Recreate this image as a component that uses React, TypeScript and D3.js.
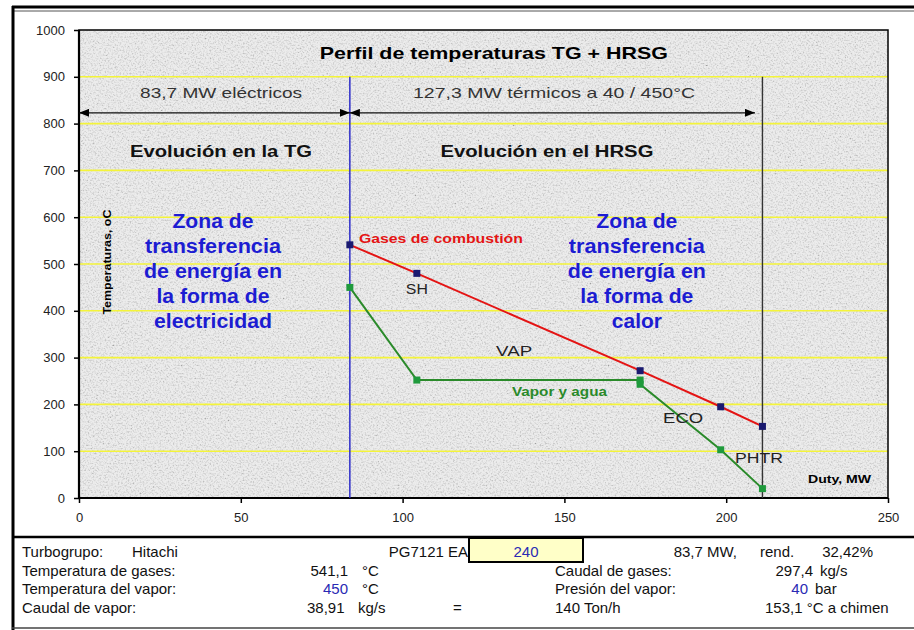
import { useEffect, useRef } from 'react'
import * as d3 from 'd3'

// Gases de combustión (duty MW, temperature °C)
const gasDuty = [83.7, 104.4, 173.4, 198.3, 211.2]
const gasTemp = [541, 480, 272, 195, 153]

// Vapor y agua
const steamDuty = [83.7, 104.4, 173.4, 173.4, 198.3, 211.2]
const steamTemp = [450, 252, 252, 243, 103, 20]

const xTicks = [0, 50, 100, 150, 200, 250]
const yTicks = [0, 100, 200, 300, 400, 500, 600, 700, 800, 900, 1000]
const gridTemps = [100, 200, 300, 400, 500, 600, 700, 800, 900]

const TG_DUTY = 83.7
const STACK_DUTY = 211.2
const ARROW_END = 208.9
const ARROW_TEMP = 823

const zoneLeft = ['Zona de', 'transferencia', 'de energía en', 'la forma de', 'electricidad']
const zoneRight = ['Zona de', 'transferencia', 'de energía en', 'la forma de', 'calor']
const zoneWidths = [81, 136, 138, 113, 118]

const FONT = '"Liberation Sans", Arial, sans-serif'

const W = 914
const H = 630
const margin = { left: 79, right: 888, top: 30, bottom: 498 }

export default function App() {
  const xAxisRef = useRef<SVGGElement>(null)
  const yAxisRef = useRef<SVGGElement>(null)

  const x = d3.scaleLinear().domain([0, 250]).range([margin.left, margin.right])
  const y = d3.scaleLinear().domain([0, 1000]).range([margin.bottom, margin.top])

  useEffect(() => {
    const xa = d3.select(xAxisRef.current!)
    xa.call(d3.axisBottom(x).tickValues(xTicks).tickFormat(d3.format('d')).tickSize(5).tickPadding(10))
    const ya = d3.select(yAxisRef.current!)
    ya.call(d3.axisLeft(y).tickValues(yTicks).tickFormat(d3.format('d')).tickSize(5).tickPadding(9))
    for (const a of [xa, ya]) {
      a.selectAll('.domain').remove()
      a.selectAll('line').attr('stroke', '#000').attr('stroke-width', 1.5)
      a.selectAll('text')
        .attr('fill', '#222')
        .style('font-family', FONT)
        .style('font-size', '13px')
    }
  }, [])

  const gasPts = gasDuty.map((d, i) => [x(d), y(gasTemp[i])] as [number, number])
  const steamPts = steamDuty.map((d, i) => [x(d), y(steamTemp[i])] as [number, number])
  const path = d3.line()

  const txt = (
    label: string,
    dx: number,
    dy: number,
    opts: { size: number; len?: number; bold?: boolean; fill?: string; anchor?: string },
  ) => (
    <text
      key={label + dx + dy}
      x={x(dx)}
      y={y(dy)}
      textAnchor={opts.anchor ?? 'start'}
      fontSize={opts.size}
      fontWeight={opts.bold ? 'bold' : 'normal'}
      fill={opts.fill ?? '#222'}
      textLength={opts.len}
      lengthAdjust="spacingAndGlyphs"
    >
      {label}
    </text>
  )

  const rowY = [557, 575.5, 594, 612.5]

  return (
    <div style={{ position: 'fixed', left: 0, top: 0 }}>
      <svg width={W} height={H} style={{ display: 'block', fontFamily: FONT }}>
        <defs>
          <filter id="grain" x="0" y="0" width="100%" height="100%">
            <feTurbulence type="fractalNoise" baseFrequency="0.6" numOctaves="2" seed="7" />
            <feColorMatrix
              type="matrix"
              values="2.2 0 0 0 -0.25  2.2 0 0 0 -0.25  2.2 0 0 0 -0.25  0 0 0 0 1"
            />
          </filter>
          <marker id="arr" viewBox="0 0 10 8" refX="10" refY="4" markerWidth="10" markerHeight="8"
            markerUnits="userSpaceOnUse" orient="auto-start-reverse">
            <path d="M0,0 L10,4 L0,8 Z" fill="#000" />
          </marker>
        </defs>

        <rect x={0} y={0} width={W} height={H} fill="#fff" />

        {/* plot background */}
        <rect x={margin.left} y={margin.top} width={margin.right - margin.left}
          height={margin.bottom - margin.top} fill="#e4e4e4" />
        <rect x={margin.left} y={margin.top} width={margin.right - margin.left}
          height={margin.bottom - margin.top} filter="url(#grain)" opacity={0.3} />

        {/* gridlines */}
        {gridTemps.map((t) => (
          <line key={t} x1={margin.left} x2={margin.right} y1={y(t)} y2={y(t)}
            stroke="#f4f43a" strokeWidth={1.6} />
        ))}

        {/* plot frame */}
        <rect x={margin.left} y={margin.top} width={margin.right - margin.left}
          height={margin.bottom - margin.top} fill="none" stroke="#000" strokeWidth={1.5} />
        <line x1={margin.left} x2={margin.left} y1={margin.top} y2={margin.bottom} stroke="#000" strokeWidth={2.2} />
        <line x1={margin.left} x2={margin.right} y1={margin.bottom} y2={margin.bottom} stroke="#000" strokeWidth={2.2} />

        <g ref={xAxisRef} transform={`translate(0,${margin.bottom})`} />
        <g ref={yAxisRef} transform={`translate(${margin.left},0)`} />

        {/* boundary lines */}
        <line x1={x(TG_DUTY)} x2={x(TG_DUTY)} y1={y(900)} y2={y(0)} stroke="#2020c8" strokeWidth={1.4} />
        <line x1={x(STACK_DUTY)} x2={x(STACK_DUTY)} y1={y(900)} y2={y(0)} stroke="#333" strokeWidth={1.4} />

        {/* arrows */}
        <line x1={x(0)} x2={x(TG_DUTY)} y1={y(ARROW_TEMP)} y2={y(ARROW_TEMP)} stroke="#111" strokeWidth={1.3}
          markerStart="url(#arr)" markerEnd="url(#arr)" />
        <line x1={x(TG_DUTY)} x2={x(ARROW_END)} y1={y(ARROW_TEMP)} y2={y(ARROW_TEMP)} stroke="#111" strokeWidth={1.3}
          markerStart="url(#arr)" markerEnd="url(#arr)" />

        {/* series */}
        <path d={path(steamPts) ?? ''} fill="none" stroke="#2a8a2a" strokeWidth={2} />
        <path d={path(gasPts) ?? ''} fill="none" stroke="#e41414" strokeWidth={2} />
        {steamPts.map(([px, py], i) => (
          <rect key={'s' + i} x={px - 3.5} y={py - 3.5} width={7} height={7} fill="#1f9a3c" />
        ))}
        {gasPts.map(([px, py], i) => (
          <rect key={'g' + i} x={px - 3.5} y={py - 3.5} width={7} height={7} fill="#1a1a70" />
        ))}

        {/* annotations */}
        {txt('Perfil de temperaturas TG + HRSG', 128.2, 938, { size: 17, len: 348, bold: true, anchor: 'middle', fill: '#000' })}
        {txt('83,7 MW eléctricos', 43.9, 855, { size: 15, len: 162, anchor: 'middle', fill: '#333' })}
        {txt('127,3 MW térmicos a 40 / 450°C', 146.8, 855, { size: 15, len: 282, anchor: 'middle', fill: '#333' })}
        {txt('Evolución en la TG', 43.9, 729, { size: 16, len: 182, bold: true, anchor: 'middle', fill: '#111' })}
        {txt('Evolución en el HRSG', 144.6, 729, { size: 16, len: 213, bold: true, anchor: 'middle', fill: '#111' })}
        {zoneLeft.map((s, i) =>
          txt(s, 41.4, 577 - i * 53.5, { size: 19.5, len: zoneWidths[i], bold: true, anchor: 'middle', fill: '#1c1cd2' }),
        )}
        {zoneRight.map((s, i) =>
          txt(s, 172.4, 577 - i * 53.5, { size: 19.5, len: i === 4 ? 50 : zoneWidths[i], bold: true, anchor: 'middle', fill: '#1c1cd2' }),
        )}
        {txt('Gases de combustión', 86.5, 545, { size: 12, len: 164, bold: true, fill: '#e41414' })}
        {txt('SH', 104.4, 436, { size: 15, len: 22, anchor: 'middle' })}
        {txt('VAP', 128.9, 303, { size: 15, len: 36 })}
        {txt('Vapor y agua', 133.8, 218, { size: 12, len: 95, bold: true, fill: '#2a8a2a' })}
        {txt('ECO', 180.5, 160, { size: 15, len: 40 })}
        {txt('PHTR', 202.7, 75, { size: 15, len: 48 })}
        {txt('Duty, MW', 225.3, 32, { size: 10, len: 63, bold: true, fill: '#000' })}
        <text
          transform={`translate(${x(9.9)},${y(504)}) rotate(-90)`}
          textAnchor="middle"
          fontSize={10}
          fontWeight="bold"
          fill="#000"
          textLength={105}
          lengthAdjust="spacingAndGlyphs"
        >
          Temperaturas, oC
        </text>

        {/* outer frame */}
        <line x1={12} x2={W} y1={7} y2={7} stroke="#000" strokeWidth={3} />
        <line x1={12} x2={W} y1={11} y2={11} stroke="#555" strokeWidth={1} />
        <line x1={13} x2={13} y1={6} y2={H} stroke="#000" strokeWidth={3} />

        {/* data table */}
        <line x1={12} x2={W} y1={537} y2={537} stroke="#000" strokeWidth={2.5} />
        <line x1={12} x2={W} y1={628} y2={628} stroke="#444" strokeWidth={1.5} />
        <rect x={469} y={538} width={114} height={24} fill="#ffffc8" stroke="#000" strokeWidth={2} />
        <g fontSize={15} fill="#111">
          <text x={22} y={rowY[0]}>Turbogrupo:</text>
          <text x={132} y={rowY[0]}>Hitachi</text>
          <text x={468} y={rowY[0]} textAnchor="end">PG7121 EA</text>
          <text x={526} y={rowY[0]} textAnchor="middle" fill="#2a2ab4">240</text>
          <text x={737} y={rowY[0]} textAnchor="end">83,7 MW,</text>
          <text x={760} y={rowY[0]}>rend.</text>
          <text x={873} y={rowY[0]} textAnchor="end">32,42%</text>

          <text x={22} y={rowY[1]}>Temperatura de gases:</text>
          <text x={348} y={rowY[1]} textAnchor="end">541,1</text>
          <text x={362} y={rowY[1]}>°C</text>
          <text x={555} y={rowY[1]}>Caudal de gases:</text>
          <text x={813} y={rowY[1]} textAnchor="end">297,4</text>
          <text x={820} y={rowY[1]}>kg/s</text>

          <text x={22} y={rowY[2]}>Temperatura del vapor:</text>
          <text x={348} y={rowY[2]} textAnchor="end" fill="#2a2ab4">450</text>
          <text x={362} y={rowY[2]}>°C</text>
          <text x={555} y={rowY[2]}>Presión del vapor:</text>
          <text x={808} y={rowY[2]} textAnchor="end" fill="#2a2ab4">40</text>
          <text x={815} y={rowY[2]}>bar</text>

          <text x={22} y={rowY[3]}>Caudal de vapor:</text>
          <text x={307} y={rowY[3]}>38,91</text>
          <text x={358} y={rowY[3]}>kg/s</text>
          <text x={453} y={rowY[3]}>=</text>
          <text x={555} y={rowY[3]}>140 Ton/h</text>
          <text x={765} y={rowY[3]}>153,1 °C a chimen</text>
        </g>
      </svg>
    </div>
  )
}
